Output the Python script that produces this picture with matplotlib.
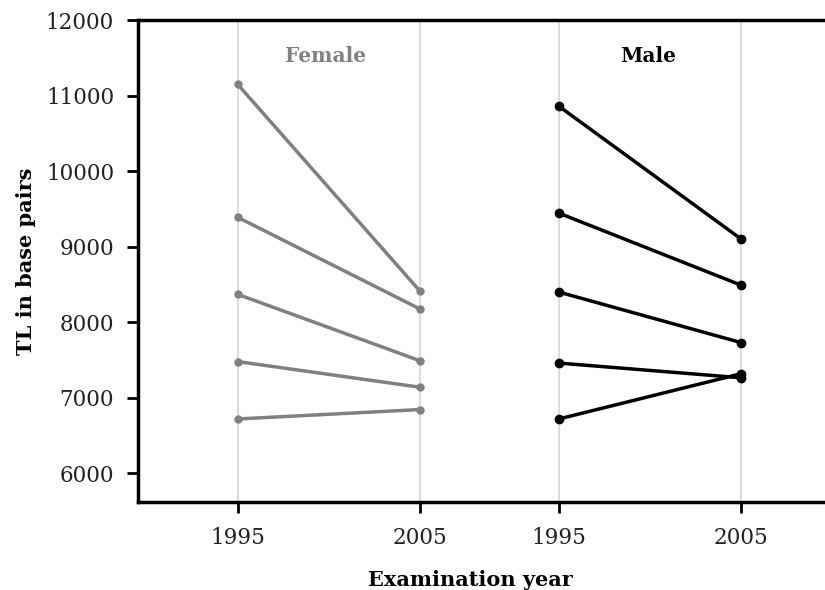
import numpy as np
import matplotlib
matplotlib.use("Agg")
import matplotlib.pyplot as plt

# telomere length per subject, 1995 -> 2005
years = ["1995", "2005"]
female_1995 = [11150, 9390, 8370, 7480, 6720]
female_2005 = [8410, 8175, 7490, 7140, 6845]
male_1995 = [10860, 9445, 8400, 7460, 6720]
male_2005 = [9100, 8490, 7730, 7265, 7320]

female_x = [0.0, 1.0]
male_x = [1.76, 2.76]

plt.rcParams["font.family"] = ["DejaVu Serif"]

fig = plt.figure(figsize=(8.25, 5.9), dpi=100)
ax = fig.add_axes([0.167, 0.149, 0.84, 0.817])

for x in female_x + male_x:
    ax.axvline(x, color="#dcdcdc", lw=1.5, zorder=0)

for a, b in zip(female_1995, female_2005):
    ax.plot(female_x, [a, b], color="#808080", lw=2.5,
            marker="o", markersize=5, zorder=3)

for a, b in zip(male_1995, male_2005):
    ax.plot(male_x, [a, b], color="black", lw=2.5,
            marker="o", markersize=6, zorder=3)

ax.set_xlim(-0.547, 3.25)
ax.set_ylim(5620, 12000)
ax.set_yticks(np.arange(6000, 12001, 1000))
ax.set_xticks(female_x + male_x)
ax.set_xticklabels(years + years)

ax.spines["right"].set_visible(False)
for s in ["left", "top", "bottom"]:
    ax.spines[s].set_linewidth(2.5)

ax.tick_params(axis="both", direction="out", length=8, width=2,
               labelsize=15.5, colors="black")
ax.tick_params(axis="x", pad=10)
ax.tick_params(axis="y", pad=9)
for lbl in ax.get_xticklabels() + ax.get_yticklabels():
    lbl.set_color("#222222")

ax.text(0.48, 11530, "Female", color="#808080", fontsize=14.5,
        fontweight="bold", ha="center", va="center")
ax.text(2.25, 11530, "Male", color="black", fontsize=14.5,
        fontweight="bold", ha="center", va="center")

ax.set_ylabel("TL in base pairs", fontsize=15, fontweight="bold")
ax.yaxis.set_label_coords(-0.147, 0.5)
ax.set_xlabel("Examination year", fontsize=15, fontweight="bold")
ax.xaxis.set_label_coords(0.48, -0.14)

fig.savefig("out.png", dpi=100)
